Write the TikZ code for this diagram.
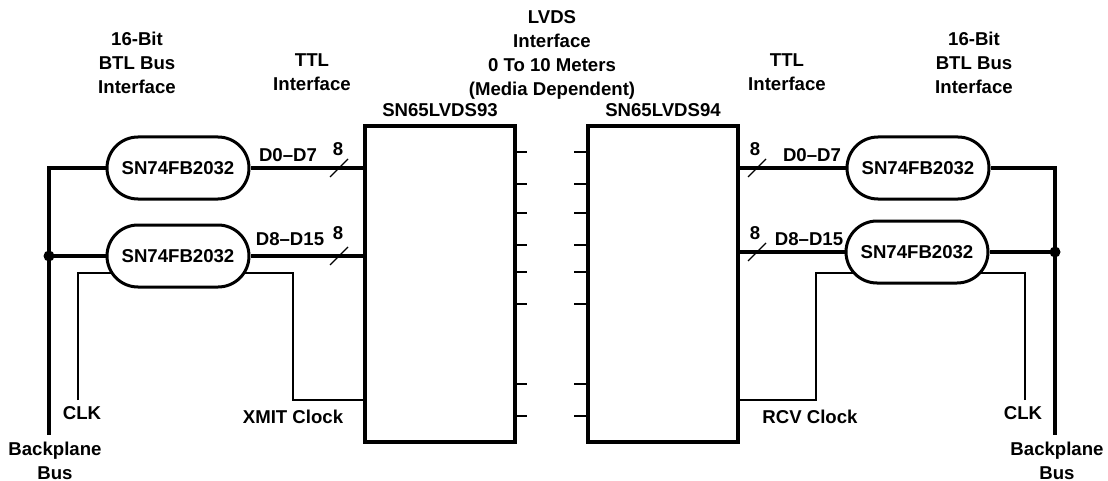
\documentclass[tikz,border=0pt]{standalone}
\usepackage{fontspec}
\setmainfont{Liberation Sans}
\usepackage{tikz}
\usepackage{xcolor}
\usetikzlibrary{shapes,positioning,backgrounds}

\begin{document}
\begin{tikzpicture}[x=0.5pt,y=-0.5pt,
    every node/.style={font=\bfseries\fontsize{9.3}{12}\selectfont, inner sep=0pt},
    pill/.style={rounded rectangle, draw, line width=1.5pt, fill=white, minimum width=71pt, minimum height=31pt},
    chip/.style={rectangle, draw, line width=1.6pt, fill=white, minimum width=75pt, minimum height=158pt},
    bus/.style={line width=1.9pt},
    clk/.style={line width=0.6pt},
    pin/.style={line width=0.6pt},
    slash/.style={line width=0.6pt},
    dot/.style={circle, fill, minimum size=5.5pt}]
    \useasboundingbox (0,0) rectangle (1108,481);

    \node[chip] (tx) at (440,284) {};
    \node[chip] (rx) at (663,284) {};
    \node[above=3.5pt of tx] (txname) {SN65LVDS93};
    \node[above=3.5pt of rx] (rxname) {SN65LVDS94};

    \node[pill] (pa) at (178,168) {SN74FB2032};
    \node[pill] (pb) at (178,256) {SN74FB2032};
    \node[pill] (qa) at (918,168) {SN74FB2032};
    \node[pill] (qb) at (917,252) {SN74FB2032};

    \node[align=center] (lbtl) at (137,63) {16-Bit\\BTL Bus\\Interface};
    \node[align=center] (lttl) at (312,72) {TTL\\Interface};
    \node[align=center] (lvds) at (552,55) {LVDS\\Interface\\0 To 10 Meters\\(Media Dependent)};
    \node[align=center] (rttl) at (787,72) {TTL\\Interface};
    \node[align=center] (rbtl) at (974,63) {16-Bit\\BTL Bus\\Interface};

    \draw[bus] (pa.east) -- (pa.east -| tx.west);
    \draw[bus] (pb.east) -- (pb.east -| tx.west);
    \draw[bus] (qa.west) -- (qa.west -| rx.east);
    \draw[bus] (qb.west) -- (qb.west -| rx.east);

    \coordinate (lbus) at (49,435);
    \coordinate (rbus) at (1055,435);
    \draw[bus] (pa.west) -| (lbus);
    \draw[bus] (pb.west) -- (pb.west -| lbus) node[dot] (ldot) {};
    \draw[bus] (qa.east) -| (rbus);
    \draw[bus] (qb.east) -- (qb.east -| rbus) node[dot] (rdot) {};

    \foreach \y in {152,184,213,245,272,304,384,416} {
        \draw[pin] (tx.east |- 0,\y) -- ++(10,0);
        \draw[pin] (rx.west |- 0,\y) -- ++(-12,0);
    }

    \coordinate (lclk) at (78,400);
    \coordinate (lxm) at (293,400);
    \coordinate (rclk) at (1025,400);
    \coordinate (rxm) at (816,400);
    \begin{scope}[on background layer]
        \draw[clk] (lclk) -- ++(0,-127) -| (lxm) -- (lxm -| tx.west);
        \draw[clk] (rclk) -- ++(0,-127) -| (rxm) -- (rxm -| rx.east);
    \end{scope}

    \node (lclkl) at (82,413) {CLK};
    \node (xmitl) at (293,417) {XMIT Clock};
    \node (rcvl) at (810,417) {RCV Clock};
    \node (rclkl) at (1023,413) {CLK};
    \node[align=center] (lbp) at (55,461) {Backplane\\Bus};
    \node[align=center] (rbp) at (1057,461) {Backplane\\Bus};

    \node (ld07) at (288,155) {D0–D7};
    \node (lw1) at (338,149) {8};
    \draw[slash] (339,168) +(-9,9) -- +(9,-9);
    \node (ld815) at (290,239) {D8–D15};
    \node (lw2) at (338,233) {8};
    \draw[slash] (339,256) +(-9,9) -- +(9,-9);

    \node (rd07) at (812,155) {D0–D7};
    \node (rw1) at (755,149) {8};
    \draw[slash] (757,168) +(-9,9) -- +(9,-9);
    \node (rd815) at (809,239) {D8–D15};
    \node (rw2) at (755,233) {8};
    \draw[slash] (757,252) +(-9,9) -- +(9,-9);
\end{tikzpicture}
\end{document}
